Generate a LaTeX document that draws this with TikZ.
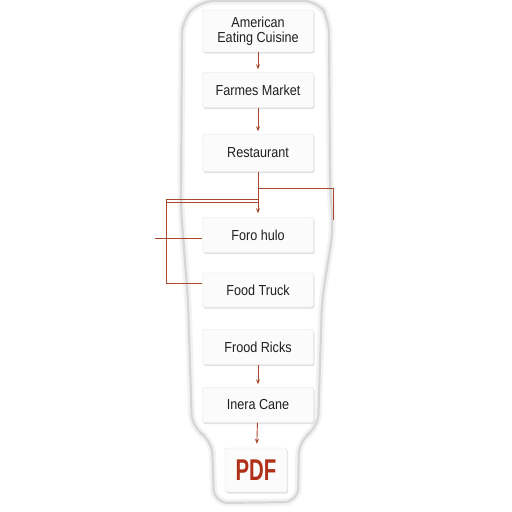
\documentclass[tikz,border=0pt]{standalone}
\usepackage{fontspec}
\setmainfont[FakeStretch=0.87]{Liberation Sans}
\newfontfamily\pdffont[FakeStretch=0.68]{Liberation Sans}
\usetikzlibrary{shadows,arrows.meta}
\definecolor{linkred}{HTML}{A9472B}
\definecolor{pdfred}{HTML}{B0301A}
\definecolor{boxedge}{HTML}{E2E2E2}
\definecolor{wrapedge}{HTML}{D6D6D6}
\tikzset{
  stagebox/.style={draw=boxedge, fill=white!97!gray, rounded corners=2pt,
    minimum width=111pt, minimum height=35pt, inner sep=2pt, align=center,
    font=\fontsize{14.5}{15.5}\selectfont, text=black!88,
    drop shadow={shadow xshift=1pt, shadow yshift=-1.5pt, fill=black!18, opacity=0.6}},
  link/.style={draw=linkred, line width=0.9pt},
  linkarrow/.style={link, -{Stealth[length=5pt,width=4pt]}},
}
\begin{document}
\begin{tikzpicture}[x=1pt,y=-1pt]
\useasboundingbox (0,0) rectangle (512,512);
\fill[white] (0,0) rectangle (512,512);
% outer wrapper
\draw[wrapedge!60, line width=7pt, rounded corners=14pt, opacity=0.5]
  (200,1) -- (318,1) -- (329,20) -- (330,185) -- (333,230) -- (322,300)
  -- (318,428) -- (299,440) -- (298,502) -- (214,503) -- (212,440)
  -- (192,428) -- (188,300) -- (181,210) -- (182,20) -- cycle;
\draw[wrapedge, line width=2.2pt, rounded corners=14pt]
  (200,1) -- (318,1) -- (329,20) -- (330,185) -- (333,230) -- (322,300)
  -- (318,428) -- (299,440) -- (298,502) -- (214,503) -- (212,440)
  -- (192,428) -- (188,300) -- (181,210) -- (182,20) -- cycle;
% boxes
\node[stagebox, minimum height=42pt] (b1) at (258,31) {American\\Eating Cuisine};
\node[stagebox] (b2) at (258,90) {Farmes Market};
\node[stagebox, minimum height=37pt] (b3) at (258,153) {Restaurant};
\node[stagebox] (b4) at (258,235) {Foro hulo};
\node[stagebox, minimum height=34pt] (b5) at (258,290) {Food Truck};
\node[stagebox] (b6) at (258,347) {Frood Ricks};
\node[stagebox] (b7) at (258,405) {Inera Cane};
\node[stagebox, minimum width=62pt, minimum height=44pt, font=\pdffont\bfseries\fontsize{30}{30}\selectfont, text=pdfred] (pdf) at (256,470) {PDF};
% connectors
\draw[linkarrow, shorten >=3pt] (b1) -- (b2);
\draw[linkarrow, shorten >=3pt] (b2) -- (b3);
\draw[linkarrow, shorten >=4pt] (b3) -- (b4);
\draw[linkarrow, shorten >=3pt] (b6) -- (b7);
\draw[linkarrow, shorten >=4pt] (b7) -- (pdf);
\coordinate (j1) at (258,188);
\coordinate (r1) at (333,188);
\coordinate (r2) at (333,220);
\draw[link] (j1) -- (r1) -- (r2);
\coordinate (j2) at (258,199);
\coordinate (j3) at (258,202.5);
\coordinate (l1) at (166,199);
\coordinate (l2) at (166,202.5);
\coordinate (l3) at (166,283);
\coordinate (t5) at (b5.west |- l3);
\draw[link] (j2) -- (l1) -- (l3) -- (t5);
\draw[link] (j3) -- (l2);
\coordinate (s1) at (155,238);
\coordinate (t4) at (b4.west |- s1);
\draw[link] (s1) -- (t4);
\end{tikzpicture}
\end{document}
